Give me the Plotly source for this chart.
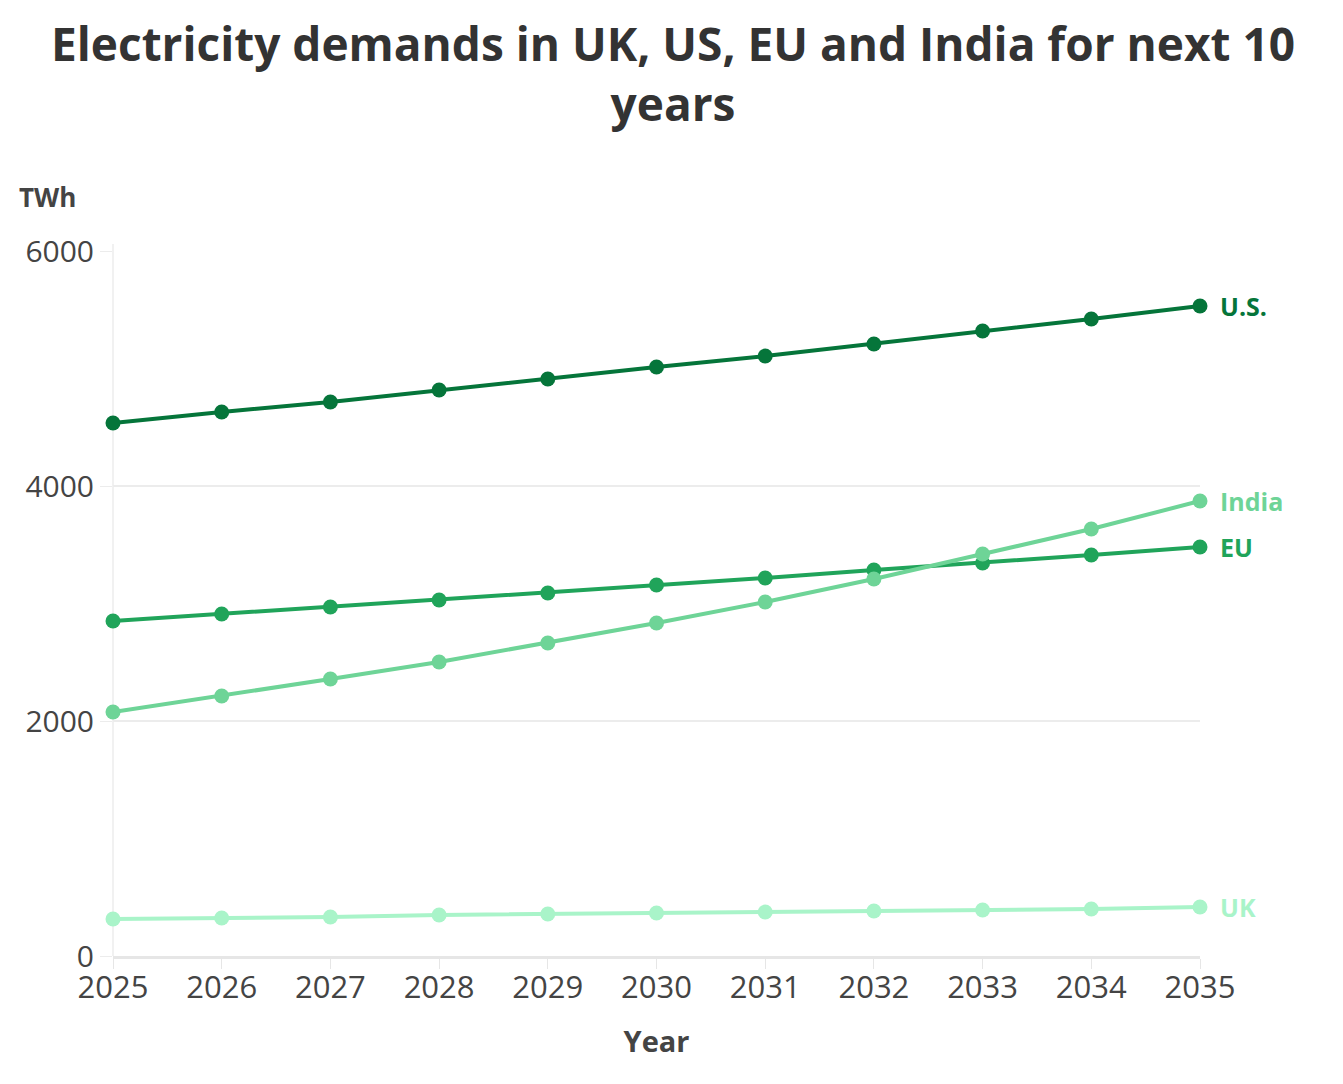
import plotly.graph_objects as go

years = [2025, 2026, 2027, 2028, 2029, 2030, 2031, 2032, 2033, 2034, 2035]
us = [4536, 4630, 4715, 4817, 4911, 5013, 5106, 5209, 5319, 5421, 5532]
eu = [2851, 2911, 2970, 3030, 3089, 3157, 3217, 3285, 3345, 3413, 3481]
india = [2077, 2213, 2357, 2502, 2664, 2834, 3013, 3209, 3421, 3634, 3872]
uk = [315, 323, 332, 349, 357, 366, 374, 383, 391, 400, 417]

series_names = ["U.S.", "EU", "India", "UK"]
series_values = [us, eu, india, uk]
series_colors = ["#05753a", "#20a45a", "#6ed497", "#a9f4c9"]

y_ticks = [0, 2000, 4000, 6000]

FONT = "Open Sans"
TEXT = "#444444"

fig = go.Figure()
annots = []
for name, vals, col in zip(series_names, series_values, series_colors):
    fig.add_trace(go.Scatter(
        x=years, y=vals, name=name, mode="lines+markers",
        line=dict(color=col, width=4),
        marker=dict(color=col, size=15),
        cliponaxis=False, showlegend=False,
    ))
    annots.append(dict(
        x=years[-1], y=vals[-1], text=f"<b>{name}</b>", showarrow=False,
        xanchor="left", xshift=18, yshift=0,
        font=dict(family=FONT, size=25, color=col),
    ))

annots.append(dict(
    text="<b>Electricity demands in UK, US, EU and India for next 10<br>years</b>",
    xref="paper", yref="paper", x=0.515, y=1.252, xanchor="center", yanchor="middle",
    showarrow=False, font=dict(family=FONT, size=46, color="#333333"),
))
annots.append(dict(
    text="<b>TWh</b>", xref="paper", yref="paper", x=-0.088, y=1.077,
    xanchor="left", yanchor="middle", showarrow=False,
    font=dict(family=FONT, size=26, color=TEXT),
))

fig.update_layout(
    width=1343, height=1084,
    paper_bgcolor="white", plot_bgcolor="white",
    margin=dict(l=105, r=151, t=243, b=136),
    font=dict(family=FONT, color=TEXT),
    xaxis=dict(
        range=[2025, 2035], tickvals=years, ticktext=[str(y) for y in years],
        showgrid=False, zeroline=False,
        showline=True, linecolor="#e6e6e6", linewidth=3,
        ticks="outside", ticklen=10, tickcolor="#e6e6e6", tickwidth=1,
        ticklabelstandoff=-8,
        tickfont=dict(family=FONT, size=31, color=TEXT),
        title=dict(text="<b>Year</b>", font=dict(family=FONT, size=29, color=TEXT), standoff=26),
    ),
    yaxis=dict(
        range=[0, 6000], tickvals=y_ticks,
        showgrid=True, gridcolor="#ececec", gridwidth=2,
        zeroline=False, showline=False,
        ticks="outside", ticklen=12, tickcolor="#ececec",
        tickfont=dict(family=FONT, size=30, color=TEXT),
    ),
    shapes=[dict(type="line", xref="paper", yref="paper", x0=0, x1=0, y0=0, y1=1.01,
                 line=dict(color="#ececec", width=1.5), layer="below")],
    annotations=annots,
)

fig.write_html("out.html")
